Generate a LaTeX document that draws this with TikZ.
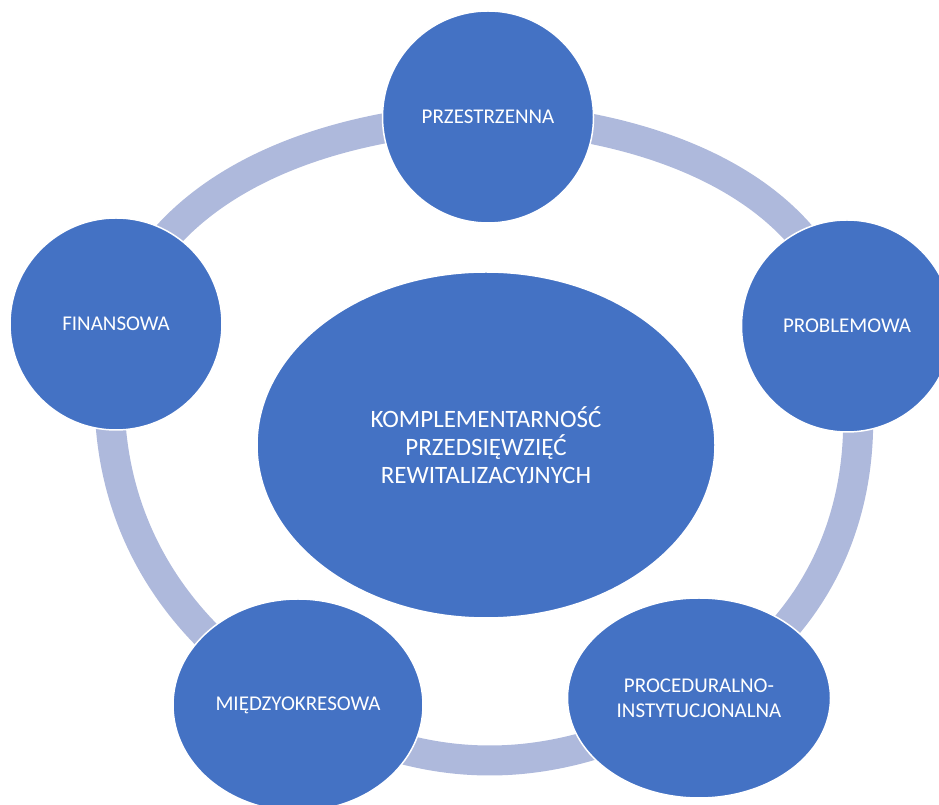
\documentclass[tikz,border=0pt]{standalone}
\usepackage{fontspec}
\setmainfont{Carlito}
\usetikzlibrary{shapes.geometric}
\definecolor{nodeblue}{HTML}{4472C4}
\definecolor{ringblue}{RGB}{174,185,220}
\begin{document}
\begin{tikzpicture}[x=1pt,y=1pt,
  bubble/.style={ellipse, fill=nodeblue, draw=white, line width=1.5pt, text=white,
    align=center, inner sep=0pt, font=\fontsize{21}{25}\selectfont},
  hub/.style={bubble, font=\fontsize{25}{28}\selectfont},
  ringline/.style={draw=ringblue, line width=30pt}]
\useasboundingbox (0,0) rectangle (939,805);
\clip (0,0) rectangle (939,805);
\coordinate (cT) at (488,688);
\coordinate (cR) at (847,479);
\coordinate (cBR) at (699,107);
\coordinate (cBL) at (298,100);
\coordinate (cL) at (116,481);
\draw[ringline] (cT) to[out=-2,in=103,looseness=0.93] (cR)
  to[out=-77,in=30] (cBR)
  to[out=-150,in=-30] (cBL)
  to[out=150,in=-100] (cL)
  to[out=72,in=182,looseness=0.93] (cT);
\node[hub, minimum width=458pt, minimum height=346pt] (hub) at (486,360)
  {KOMPLEMENTARNOŚĆ\\PRZEDSIĘWZIĘĆ\\REWITALIZACYJNYCH};
\node[bubble, minimum width=211pt, minimum height=212pt] (top) at (cT) {PRZESTRZENNA};
\node[bubble, minimum width=211pt, minimum height=212pt] (right) at (cR) {PROBLEMOWA};
\node[bubble, minimum width=263pt, minimum height=200pt] (bright) at (cBR) {PROCEDURALNO-\\INSTYTUCJONALNA};
\node[bubble, minimum width=250pt, minimum height=212pt] (bleft) at (cBL) {MIĘDZYOKRESOWA};
\node[bubble, minimum width=212pt, minimum height=212pt] (left) at (cL) {FINANSOWA};
\end{tikzpicture}
\end{document}
